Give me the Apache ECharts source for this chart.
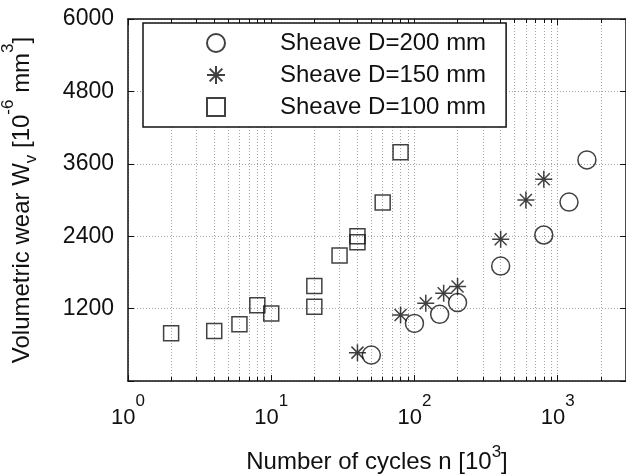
<!DOCTYPE html>
<html><head><meta charset="utf-8">
<script src="https://cdn.jsdelivr.net/npm/echarts@6/dist/echarts.min.js"></script>
<style>html,body{margin:0;padding:0;background:#fff}#c{width:626px;height:474px}</style>
</head><body><div id="c"></div>
<script>
// ---- data ----
const seriesNames = ['Sheave D=200 mm', 'Sheave D=150 mm', 'Sheave D=100 mm'];
const cycles200 = [50, 100, 150, 200, 400, 800, 1200, 1600];
const wear200   = [430, 955, 1105, 1300, 1905, 2420, 2965, 3665];
const cycles150 = [40, 80, 120, 160, 200, 400, 600, 800];
const wear150   = [470, 1095, 1290, 1455, 1565, 2350, 3000, 3345];
const cycles100 = [2, 4, 6, 8, 10, 20, 20, 30, 40, 40, 60, 80];
const wear100   = [790, 830, 940, 1255, 1120, 1575, 1230, 2080, 2400, 2300, 2960, 3790];
const xTickValues = [1, 10, 100, 1000];
const xTickExps   = ['0', '1', '2', '3'];
const yTickValues = [1200, 2400, 3600, 4800, 6000];

// ---- style ----
const FONT = '"Liberation Sans", Arial, sans-serif';
const INK = '#111';
const gridLine = {color: '#a4a4a4', width: 1, type: [1, 2]};
const asterisk = 'path://M0,-10L0,10M-10,0L10,0M-7.07,-7.07L7.07,7.07M-7.07,7.07L7.07,-7.07';

const pairs = (xs, ys) => xs.map((x, i) => [x, ys[i]]);

const xCommon = {
  type: 'log', logBase: 10, min: 1, max: 3000,
  axisLine: {show: true, onZero: false, lineStyle: {color: INK, width: 1.5}},
  axisTick: {show: true, inside: true, length: 6, lineStyle: {color: INK, width: 1}},
  minorTick: {show: true, splitNumber: 9, length: 4, lineStyle: {color: INK, width: 1}}
};
const yCommon = {
  type: 'value', min: 0, max: 6000, interval: 1200,
  axisLine: {show: true, onZero: false, lineStyle: {color: INK, width: 1.5}},
  axisTick: {show: true, inside: true, length: 6, lineStyle: {color: INK, width: 1}}
};

const chart = echarts.init(document.getElementById('c'), null, {renderer: 'canvas'});
chart.setOption({
  backgroundColor: '#fff',
  animation: false,
  textStyle: {fontFamily: FONT},
  grid: {left: 128, right: 0, top: 19, bottom: 93, containLabel: false, outerBoundsMode: 'none'},
  legend: {
    orient: 'vertical', left: 143, top: 23,
    data: seriesNames, selectedMode: false,
    itemWidth: 18, itemHeight: 18, itemGap: 8,
    padding: [8, 20, 8, 63],
    backgroundColor: '#fff', borderColor: INK, borderWidth: 1.5, borderRadius: 0,
    formatter: name => '{t|' + name + '}',
    textStyle: {fontFamily: FONT, fontSize: 24, color: INK,
      rich: {t: {fontFamily: FONT, fontSize: 24, color: INK, padding: [0, 0, 0, 50]}}}
  },
  xAxis: [
    Object.assign({}, xCommon, {
      position: 'bottom',
      splitLine: {show: true, lineStyle: gridLine},
      minorSplitLine: {show: true, lineStyle: gridLine},
      axisLabel: {
        margin: 26, color: INK, fontFamily: FONT,
        formatter: v => {
          const i = xTickValues.findIndex(t => Math.abs(t - v) < 1e-6 * t);
          return i < 0 ? '' : '{b|10}{s|' + xTickExps[i] + '}';
        },
        rich: {
          b: {fontSize: 22, fontFamily: FONT, color: INK, verticalAlign: 'bottom', lineHeight: 22},
          s: {fontSize: 17, fontFamily: FONT, color: INK, verticalAlign: 'bottom', lineHeight: 17, padding: [0, 0, 19, 0]}
        }
      },
      name: '{b|Number of cycles n [10}{s|3}{b|]}',
      nameLocation: 'middle', nameGap: 69,
      nameTextStyle: {
        color: INK, fontFamily: FONT,
        rich: {
          b: {fontSize: 24, fontFamily: FONT, color: INK, verticalAlign: 'bottom', lineHeight: 24},
          s: {fontSize: 17, fontFamily: FONT, color: INK, verticalAlign: 'bottom', lineHeight: 17, padding: [0, 0, 13, 0]}
        }
      }
    }),
    Object.assign({}, xCommon, {
      position: 'top',
      splitLine: {show: false},
      axisLabel: {show: false}
    })
  ],
  yAxis: [
    Object.assign({}, yCommon, {
      position: 'left',
      splitLine: {show: true, lineStyle: gridLine},
      axisLabel: {
        margin: 14, color: INK, fontFamily: FONT, fontSize: 23,
        formatter: v => yTickValues.indexOf(v) >= 0 ? String(v) : ''
      },
      name: '{b|Volumetric wear W}{sub|v}{b| [10}{s|-6}{b| mm}{s|3}{b|]}',
      nameLocation: 'middle', nameGap: 88,
      nameTextStyle: {
        color: INK, fontFamily: FONT,
        rich: {
          b: {fontSize: 24, fontFamily: FONT, color: INK, verticalAlign: 'bottom', lineHeight: 24, padding: [0, 0, 6, 0]},
          sub: {fontSize: 17, fontFamily: FONT, color: INK, verticalAlign: 'bottom', lineHeight: 17},
          s: {fontSize: 17, fontFamily: FONT, color: INK, verticalAlign: 'bottom', lineHeight: 17, padding: [0, 0, 23, 0]}
        }
      }
    }),
    Object.assign({}, yCommon, {
      position: 'right',
      splitLine: {show: false},
      axisLabel: {show: false}
    })
  ],
  series: [
    {
      name: seriesNames[0], type: 'scatter', xAxisIndex: 0, yAxisIndex: 0,
      symbol: 'circle', symbolSize: 18,
      itemStyle: {color: 'rgba(0,0,0,0)', borderColor: INK, borderWidth: 1.5},
      data: pairs(cycles200, wear200)
    },
    {
      name: seriesNames[1], type: 'scatter', xAxisIndex: 0, yAxisIndex: 0,
      symbol: asterisk, symbolSize: 17,
      itemStyle: {color: 'rgba(0,0,0,0)', borderColor: INK, borderWidth: 1.5},
      data: pairs(cycles150, wear150)
    },
    {
      name: seriesNames[2], type: 'scatter', xAxisIndex: 0, yAxisIndex: 0,
      symbol: 'rect', symbolSize: 15,
      itemStyle: {color: 'rgba(0,0,0,0)', borderColor: INK, borderWidth: 1.5},
      data: pairs(cycles100, wear100)
    }
  ]
});
</script>
</body></html>
